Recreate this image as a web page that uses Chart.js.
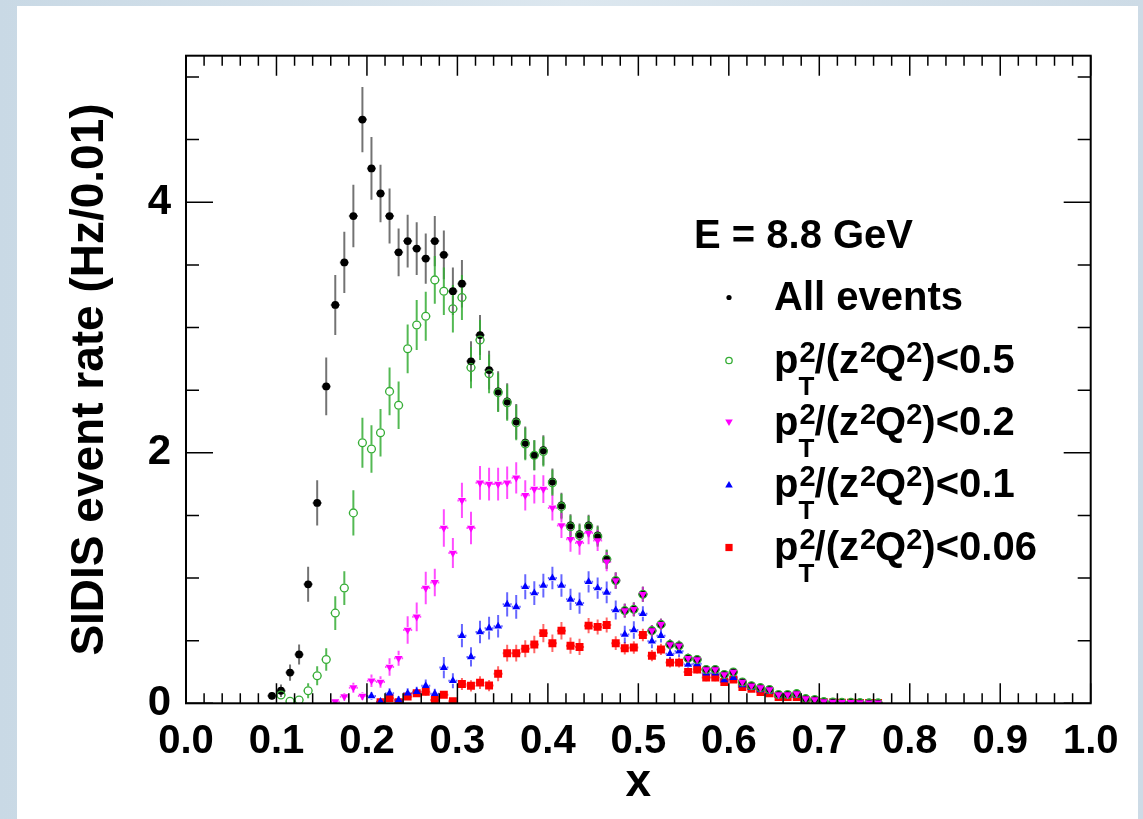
<!DOCTYPE html>
<html>
<head>
<meta charset="utf-8">
<title>SIDIS event rate</title>
<script src="https://cdn.jsdelivr.net/npm/chart.js@4.4.1/dist/chart.umd.min.js"></script>
<style>
  body { margin: 0; width: 1143px; height: 819px; overflow: hidden;
         background: linear-gradient(90deg, #c9d9e5 0%, #dce7ef 50%, #cddbe6 100%); }
  #panel { position: absolute; left: 17px; top: 6px; width: 1121px; height: 813px; background: #fff; }
  #chart { position: absolute; left: 0; top: 0; }
</style>
</head>
<body>
<div id="panel"></div>
<canvas id="chart" width="1143" height="819"></canvas>
<script>
// bin centres (bin width 0.01)
const xBins = [0.095, 0.105, 0.115, 0.125, 0.135, 0.145, 0.155, 0.165, 0.175, 0.185,
               0.195, 0.205, 0.215, 0.225, 0.235, 0.245, 0.255, 0.265, 0.275, 0.285,
               0.295, 0.305, 0.315, 0.325, 0.335, 0.345, 0.355, 0.365, 0.375, 0.385,
               0.395, 0.405, 0.415, 0.425, 0.435, 0.445, 0.455, 0.465, 0.475, 0.485,
               0.495, 0.505, 0.515, 0.525, 0.535, 0.545, 0.555, 0.565, 0.575, 0.585,
               0.595, 0.605, 0.615, 0.625, 0.635, 0.645, 0.655, 0.665, 0.675, 0.685,
               0.695, 0.705, 0.715, 0.725, 0.735, 0.745, 0.755, 0.765];

// All events
const allEvents = [0.06, 0.10, 0.245, 0.39, 0.95, 1.60, 2.53, 3.18, 3.52, 3.89,
                   4.66, 4.27, 4.07, 3.89, 3.60, 3.69, 3.63, 3.55, 3.69, 3.58,
                   3.29, 3.35, 2.73, 2.94, 2.66, 2.49, 2.41, 2.25, 2.08, 1.98,
                   2.02, 1.77, 1.58, 1.42, 1.35, 1.42, 1.34, 1.15, 0.98, 0.74,
                   0.75, 0.87, 0.58, 0.63, 0.47, 0.46, 0.36, 0.35, 0.27, 0.27,
                   0.23, 0.25, 0.17, 0.14, 0.125, 0.11, 0.07, 0.07, 0.077, 0.037,
                   0.03, 0.013, 0.01, 0.007, 0.007, 0.005, 0.003, 0.003];
const allEventsErr = [0.03, 0.05, 0.065, 0.08, 0.14, 0.18, 0.23, 0.24, 0.245, 0.25,
                      0.26, 0.25, 0.23, 0.22, 0.19, 0.21, 0.21, 0.2, 0.2, 0.195,
                      0.19, 0.19, 0.16, 0.16, 0.155, 0.16, 0.145, 0.14, 0.13, 0.12,
                      0.12, 0.105, 0.1, 0.09, 0.085, 0.085, 0.08, 0.075, 0.065, 0.055,
                      0.055, 0.06, 0.045, 0.045, 0.04, 0.04, 0.035, 0.035, 0.03, 0.03,
                      0.025, 0.025, 0.02, 0.02, 0.018, 0.016, 0.013, 0.013, 0.013, 0.009,
                      0.008, 0.005, 0.004, 0.003, 0.003, 0.002, 0.002, 0.002];

// pT^2/(z^2Q^2) < 0.5
const cut05 = [null, 0.066, 0.016, 0.026, 0.10, 0.22, 0.35, 0.72, 0.92, 1.52,
               2.08, 2.03, 2.16, 2.49, 2.38, 2.83, 3.02, 3.09, 3.38, 3.29,
               3.15, 3.24, 2.68, 2.90, 2.63, 2.48, 2.40, 2.24, 2.07, 1.98,
               2.01, 1.76, 1.57, 1.41, 1.34, 1.41, 1.33, 1.15, 0.98, 0.74,
               0.75, 0.87, 0.58, 0.63, 0.47, 0.46, 0.36, 0.35, 0.27, 0.27,
               0.23, 0.25, 0.17, 0.14, 0.125, 0.11, 0.07, 0.07, 0.077, 0.037,
               0.03, 0.013, 0.01, 0.007, 0.007, 0.005, 0.003, 0.003];
const cut05Err = [null, 0.03, 0.02, 0.03, 0.06, 0.075, 0.09, 0.135, 0.135, 0.18,
                  0.2, 0.19, 0.19, 0.19, 0.19, 0.195, 0.2, 0.195, 0.19, 0.19,
                  0.19, 0.18, 0.165, 0.16, 0.155, 0.155, 0.145, 0.14, 0.13, 0.12,
                  0.12, 0.105, 0.1, 0.09, 0.085, 0.085, 0.08, 0.075, 0.065, 0.055,
                  0.055, 0.06, 0.045, 0.045, 0.04, 0.04, 0.035, 0.035, 0.03, 0.03,
                  0.025, 0.025, 0.02, 0.02, 0.018, 0.016, 0.013, 0.013, 0.013, 0.009,
                  0.008, 0.005, 0.004, 0.003, 0.003, 0.002, 0.002, 0.002];

// pT^2/(z^2Q^2) < 0.2
const cut02 = [null, null, null, null, null, null, null, 0.013, 0.053, 0.125,
               0.058, 0.18, 0.17, 0.29, 0.36, 0.585, 0.69, 0.92, 0.965, 1.40,
               1.20, 1.62, 1.40, 1.76, 1.75, 1.75, 1.76, 1.80, 1.66, 1.71,
               1.71, 1.56, 1.42, 1.31, 1.28, 1.36, 1.30, 1.13, 0.98, 0.74,
               0.75, 0.87, 0.58, 0.63, 0.47, 0.46, 0.36, 0.35, 0.27, 0.27,
               0.23, 0.25, 0.17, 0.14, 0.125, 0.11, 0.07, 0.07, 0.077, 0.037,
               0.03, 0.013, 0.01, 0.007, 0.007, 0.005, 0.003, 0.003];
const cut02Err = [null, null, null, null, null, null, null, 0.02, 0.03, 0.04,
                  0.03, 0.05, 0.045, 0.07, 0.06, 0.11, 0.115, 0.13, 0.11, 0.15,
                  0.12, 0.14, 0.13, 0.135, 0.13, 0.13, 0.13, 0.125, 0.12, 0.115,
                  0.11, 0.1, 0.1, 0.1, 0.095, 0.09, 0.085, 0.075, 0.065, 0.055,
                  0.055, 0.06, 0.045, 0.045, 0.04, 0.04, 0.035, 0.035, 0.03, 0.03,
                  0.025, 0.025, 0.02, 0.02, 0.018, 0.016, 0.013, 0.013, 0.013, 0.009,
                  0.008, 0.005, 0.004, 0.003, 0.003, 0.002, 0.002, 0.002];

// pT^2/(z^2Q^2) < 0.1
const cut01 = [null, null, null, null, null, null, null, null, null, null,
               null, 0.058, 0.013, 0.08, 0.026, 0.08, 0.093, 0.14, 0.077, 0.285,
               0.18, 0.54, 0.37, 0.57, 0.60, 0.615, 0.79, 0.77, 0.93, 0.88,
               0.94, 1.00, 0.94, 0.83, 0.80, 0.97, 0.92, 0.885, 0.745, 0.55,
               0.585, 0.715, 0.495, 0.54, 0.395, 0.415, 0.31, 0.315, 0.24, 0.24,
               0.186, 0.205, 0.146, 0.125, 0.106, 0.094, 0.06, 0.06, 0.062, 0.03,
               0.025, 0.01, 0.008, 0.006, 0.005, 0.004, 0.003, 0.003];
const cut01Err = [null, null, null, null, null, null, null, null, null, null,
                  null, 0.03, 0.02, 0.04, 0.03, 0.04, 0.04, 0.05, 0.04, 0.085,
                  0.06, 0.093, 0.077, 0.09, 0.09, 0.09, 0.097, 0.095, 0.1, 0.095,
                  0.095, 0.09, 0.09, 0.085, 0.085, 0.085, 0.085, 0.087, 0.075, 0.07,
                  0.07, 0.06, 0.055, 0.055, 0.045, 0.045, 0.04, 0.04, 0.032, 0.032,
                  0.027, 0.027, 0.022, 0.02, 0.018, 0.016, 0.012, 0.012, 0.012, 0.008,
                  0.007, 0.004, 0.003, 0.003, 0.002, 0.002, 0.002, 0.002];

// pT^2/(z^2Q^2) < 0.06
const cut006 = [null, null, null, null, null, null, null, null, null, null,
                null, null, 0.008, 0.04, 0.008, 0.053, 0.08, 0.092, 0.026, 0.068,
                0.016, 0.154, 0.14, 0.165, 0.142, 0.236, 0.40, 0.40, 0.436, 0.47,
                0.56, 0.48, 0.58, 0.46, 0.45, 0.62, 0.61, 0.625, 0.48, 0.44,
                0.445, 0.545, 0.38, 0.43, 0.325, 0.325, 0.25, 0.27, 0.205, 0.205,
                0.17, 0.19, 0.13, 0.115, 0.09, 0.08, 0.05, 0.05, 0.05, 0.025,
                0.02, 0.008, 0.006, 0.004, 0.004, 0.003, 0.002, 0.002];
const cut006Err = [null, null, null, null, null, null, null, null, null, null,
                   null, null, 0.01, 0.02, 0.01, 0.025, 0.03, 0.03, 0.015, 0.025,
                   0.012, 0.047, 0.045, 0.05, 0.045, 0.06, 0.067, 0.067, 0.068, 0.07,
                   0.073, 0.07, 0.07, 0.065, 0.065, 0.06, 0.06, 0.06, 0.055, 0.05,
                   0.05, 0.05, 0.045, 0.045, 0.04, 0.04, 0.033, 0.033, 0.028, 0.028,
                   0.024, 0.024, 0.02, 0.018, 0.016, 0.014, 0.011, 0.011, 0.011, 0.007,
                   0.006, 0.003, 0.003, 0.002, 0.002, 0.002, 0.001, 0.001];

const cutLabels = ['0.5', '0.2', '0.1', '0.06'];
const xTickValues = [0, 0.1, 0.2, 0.3, 0.4, 0.5, 0.6, 0.7, 0.8, 0.9, 1.0];
const yTickValues = [0, 2, 4];

const FONT = '"Liberation Sans", Arial, Helvetica, sans-serif';
const GREEN = '#35ad35';

function points(vals, errs) {
    const out = [];
    vals.forEach((v, i) => {
        if (v !== null) out.push({ x: xBins[i], y: v, err: errs[i] });
    });
    return out;
}

// error bars drawn underneath the markers, left open inside the marker like ROOT does
const errorBars = {
    id: 'errorBars',
    beforeDatasetsDraw(chart) {
        const ctx = chart.ctx;
        const xs = chart.scales.x, ys = chart.scales.y;
        const a = chart.chartArea;
        ctx.save();
        ctx.beginPath();
        ctx.rect(a.left, a.top, a.right - a.left, a.bottom - a.top);
        ctx.clip();
        const metas = chart.getSortedVisibleDatasetMetas().slice().reverse();
        metas.forEach(meta => {
            const ds = chart.data.datasets[meta.index];
            const gap = ds.errGap;
            ctx.strokeStyle = ds.errColor;
            ctx.lineWidth = 2;
            ds.data.forEach(p => {
                const px = xs.getPixelForValue(p.x);
                const py = ys.getPixelForValue(p.y);
                const top = ys.getPixelForValue(p.y + p.err);
                const bot = ys.getPixelForValue(p.y - p.err);
                const l = xs.getPixelForValue(p.x - 0.005);
                const r = xs.getPixelForValue(p.x + 0.005);
                ctx.beginPath();
                if (py - top > gap) { ctx.moveTo(px, py - gap); ctx.lineTo(px, top); }
                if (bot - py > gap) { ctx.moveTo(px, py + gap); ctx.lineTo(px, bot); }
                if (px - l > gap) {
                    ctx.moveTo(l, py); ctx.lineTo(px - gap, py);
                    ctx.moveTo(px + gap, py); ctx.lineTo(r, py);
                }
                ctx.stroke();
            });
        });
        ctx.restore();
    }
};

// ROOT style frame with ticks on all four sides
const frame = {
    id: 'frame',
    afterDatasetsDraw(chart) {
        const ctx = chart.ctx;
        const xs = chart.scales.x, ys = chart.scales.y;
        const a = chart.chartArea;
        ctx.save();
        ctx.strokeStyle = '#000';
        ctx.lineWidth = 1.5;
        for (let k = 0; k <= 50; k++) {
            const px = xs.getPixelForValue(k * 0.02);
            const len = (k % 5 === 0) ? 20 : 10;
            ctx.beginPath();
            ctx.moveTo(px, a.bottom); ctx.lineTo(px, a.bottom - len);
            ctx.moveTo(px, a.top); ctx.lineTo(px, a.top + len);
            ctx.stroke();
        }
        for (let k = 0; k * 0.5 <= ys.max; k++) {
            const py = ys.getPixelForValue(k * 0.5);
            const len = (k % 4 === 0) ? 27 : 13;
            ctx.beginPath();
            ctx.moveTo(a.left, py); ctx.lineTo(a.left + len, py);
            ctx.moveTo(a.right, py); ctx.lineTo(a.right - len, py);
            ctx.stroke();
        }
        ctx.lineWidth = 2;
        ctx.strokeRect(a.left, a.top, a.right - a.left, a.bottom - a.top);
        ctx.restore();
    }
};

function marker(ctx, style, x, y) {
    ctx.beginPath();
    if (style === 'dot') {
        ctx.fillStyle = '#000';
        ctx.arc(x, y, 2.6, 0, Math.PI * 2); ctx.fill();
    } else if (style === 'circle') {
        ctx.strokeStyle = GREEN; ctx.lineWidth = 1.3;
        ctx.arc(x, y, 3.2, 0, Math.PI * 2); ctx.stroke();
    } else if (style === 'down') {
        ctx.fillStyle = '#ff00ff';
        ctx.moveTo(x - 3.8, y - 3); ctx.lineTo(x + 3.8, y - 3); ctx.lineTo(x, y + 3.6);
        ctx.closePath(); ctx.fill();
    } else if (style === 'up') {
        ctx.fillStyle = '#0000ff';
        ctx.moveTo(x - 3.8, y + 3); ctx.lineTo(x + 3.8, y + 3); ctx.lineTo(x, y - 3.6);
        ctx.closePath(); ctx.fill();
    } else {
        ctx.fillStyle = '#ff0000';
        ctx.fillRect(x - 3.6, y - 3.6, 7.2, 7.2);
    }
}

// pT^2/(z^2Q^2)<cut with stacked super/subscript
function cutLabel(ctx, x, y, cut) {
    const big = 'bold 40px ' + FONT, sup = 'bold 29px ' + FONT, sub = 'bold 26px ' + FONT;
    const up = 11;
    ctx.font = big; ctx.fillText('p', x, y); x += ctx.measureText('p').width;
    ctx.font = sup; ctx.fillText('2', x + 1, y - up);
    const w2 = ctx.measureText('2').width;
    ctx.font = sub; ctx.fillText('T', x, y + 22);
    x += w2;
    ctx.font = big; ctx.fillText('/(z', x, y); x += ctx.measureText('/(z').width;
    ctx.font = sup; ctx.fillText('2', x + 1, y - up); x += ctx.measureText('2').width;
    ctx.font = big; ctx.fillText('Q', x, y); x += ctx.measureText('Q').width;
    ctx.font = sup; ctx.fillText('2', x, y - up); x += ctx.measureText('2').width;
    ctx.font = big; ctx.fillText(')<' + cut, x, y);
}

const legend = {
    id: 'rootLegend',
    afterDraw(chart) {
        const ctx = chart.ctx;
        ctx.save();
        ctx.fillStyle = '#000';
        ctx.textAlign = 'left';
        ctx.textBaseline = 'alphabetic';
        ctx.font = 'bold 40px ' + FONT;
        ctx.fillText('E = 8.8 GeV', 694, 248);
        const styles = ['dot', 'circle', 'down', 'up', 'square'];
        const rowY = [310, 373, 435, 497, 560];
        styles.forEach((s, i) => marker(ctx, s, 729, rowY[i] - 12.5));
        ctx.fillStyle = '#000';
        ctx.font = 'bold 40px ' + FONT;
        ctx.fillText('All events', 774, rowY[0]);
        cutLabels.forEach((c, i) => cutLabel(ctx, 774, rowY[i + 1], c));
        ctx.restore();
    }
};

const ctx = document.getElementById('chart').getContext('2d');
const myChart = new Chart(ctx, {
    type: 'scatter',
    data: {
        datasets: [
            { label: 'All events', data: points(allEvents, allEventsErr), order: 2,
              pointStyle: 'circle', pointRadius: 3.9, backgroundColor: '#000', borderColor: '#000',
              borderWidth: 0, errColor: 'rgba(0,0,0,0.55)', errGap: 3 },
            { label: 'cut 0.5', data: points(cut05, cut05Err), order: 1,
              pointStyle: 'circle', pointRadius: 3.9, backgroundColor: 'rgba(0,0,0,0)', borderColor: GREEN,
              borderWidth: 1.3, errColor: 'rgba(53,173,53,0.85)', errGap: 4.2 },
            { label: 'cut 0.2', data: points(cut02, cut02Err), order: 0,
              pointStyle: 'triangle', rotation: 180, pointRadius: 4.6, backgroundColor: '#ff00ff', borderColor: '#ff00ff',
              borderWidth: 0, errColor: 'rgba(255,0,255,0.7)', errGap: 3 },
            { label: 'cut 0.1', data: points(cut01, cut01Err), order: 3,
              pointStyle: 'triangle', pointRadius: 4.6, backgroundColor: '#0000ff', borderColor: '#0000ff',
              borderWidth: 0, errColor: 'rgba(0,0,255,0.6)', errGap: 3 },
            { label: 'cut 0.06', data: points(cut006, cut006Err), order: 4,
              pointStyle: 'rect', pointRadius: 5.6, backgroundColor: '#ff0000', borderColor: '#ff0000',
              borderWidth: 0, errColor: 'rgba(255,0,0,0.6)', errGap: 3 }
        ]
    },
    options: {
        responsive: false,
        animation: false,
        devicePixelRatio: 1,
        layout: { padding: { left: 0, right: 52.3, top: 55.7, bottom: 0 } },
        plugins: { legend: { display: false }, tooltip: { enabled: false } },
        scales: {
            x: {
                type: 'linear', min: 0, max: 1,
                afterFit: s => { s.height = 115.7; },
                afterBuildTicks: s => { s.ticks = xTickValues.map(v => ({ value: v })); },
                grid: { display: false },
                border: { display: false },
                ticks: {
                    autoSkip: false, maxRotation: 0, padding: 7, color: '#000',
                    font: { family: FONT, size: 40, weight: 'bold' },
                    callback: v => v.toFixed(1)
                },
                title: {
                    display: true, text: 'x', color: '#000',
                    font: { family: FONT, size: 46, weight: 'bold', lineHeight: 1 },
                    padding: { top: 0, bottom: 13 }
                }
            },
            y: {
                type: 'linear', min: 0, max: 5.17,
                afterFit: s => { s.width = 186; },
                afterBuildTicks: s => { s.ticks = yTickValues.map(v => ({ value: v })); },
                grid: { display: false },
                border: { display: false },
                ticks: {
                    padding: 7, color: '#000',
                    font: { family: FONT, size: 42, weight: 'bold' },
                    callback: v => String(v)
                },
                title: {
                    display: true, text: 'SIDIS event rate (Hz/0.01)', color: '#000',
                    font: { family: FONT, size: 46, weight: 'bold', lineHeight: 1 },
                    padding: { top: 67, bottom: 0 }
                }
            }
        }
    },
    plugins: [errorBars, frame, legend]
});
</script>
</body>
</html>
